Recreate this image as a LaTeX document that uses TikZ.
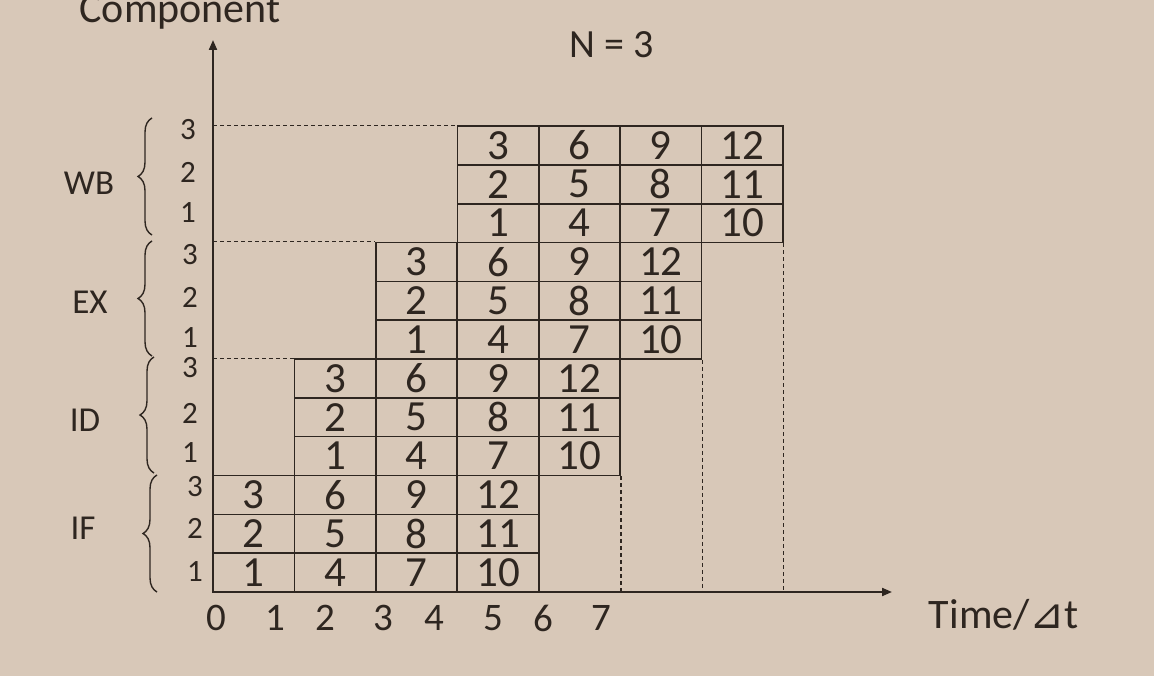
\documentclass[tikz,border=0pt]{standalone}
\usepackage{fontspec}
\setmainfont{Carlito}
\newfontfamily\trifont{DejaVu Sans}
\usepackage{xcolor}
\usetikzlibrary{arrows.meta, positioning, decorations.pathreplacing}
\definecolor{slidebg}{HTML}{D8C8B8}
\definecolor{ink}{HTML}{2E2620}

\begin{document}
\begin{tikzpicture}[
  x=1pt, y=-1pt,
  cell/.style={draw=ink, line width=1.6pt, minimum width=81.4pt, minimum height=38.8pt, inner sep=0pt, text=ink, font=\fontsize{43}{43}\selectfont},
  rowlbl/.style={text=ink, inner sep=0pt, font=\fontsize{31}{31}\selectfont},
  stage/.style={text=ink, inner sep=0pt, font=\fontsize{35}{35}\selectfont},
  tick/.style={text=ink, inner sep=0pt, font=\fontsize{39}{39}\selectfont},
  title/.style={text=ink, inner sep=0pt, font=\fontsize{42}{42}\selectfont},
  guide/.style={draw=ink, line width=1.3pt, dash pattern=on 4pt off 3pt},
  axis/.style={draw=ink, line width=2pt, -{Triangle[length=10pt, width=8pt]}},
  curly/.style={draw=ink, line width=1.4pt, decorate, decoration={brace, amplitude=14pt}},
]
\fill[slidebg] (0,0) rectangle (1154,676);
\useasboundingbox (0,0) rectangle (1154,676);

% axes
\coordinate (origin) at (213,592);
\coordinate (ytip) at (213,40);
\coordinate (xtip) at (892,592);
\draw[axis] (origin) -- (ytip);
\draw[axis] (origin) -- (xtip);
\node[title, anchor=base] (ylbl) at (180,23) {Component};
\node[title, anchor=base] (xlbl) at (1004,628) {Time/{\trifont ⊿}t};
\node[title, font=\fontsize{40}{40}\selectfont] (ntitle) at (612,45) {N = 3};

% stage blocks: stage s starts at column s
\foreach \s/\stg in {0/IF,1/ID,2/EX,3/WB}
  \foreach \col in {0,...,3}
    \foreach \r in {1,2,3}
      \node[cell] (\stg-\col-\r) at ({213+(\s+\col+0.5)*81.43}, {592-(3*\s+\r-0.5)*38.83})
        {\pgfmathtruncatemacro\num{3*\col+\r}\num};

% dashed guides
\draw[guide] (origin |- WB-0-3.north) -- (WB-0-3.north west);
\draw[guide] (origin |- EX-0-3.north) -- (EX-0-3.north west);
\draw[guide] (origin |- ID-0-3.north) -- (ID-0-3.north west);
\draw[guide] (ID-3-1.south east) -- (ID-3-1.south east |- origin);
\draw[guide] (EX-3-1.south east) -- (EX-3-1.south east |- origin);
\draw[guide] (WB-3-1.south east) -- (WB-3-1.south east |- origin);

% row numbers
\foreach \stg/\x/\ya/\yb/\yc in {WB/188/213/172/130, EX/190/338/297/255, ID/190/453/413/368, IF/195/572/528/487} {
  \node[rowlbl] (lbl-\stg-1) at (\x,\ya) {1};
  \node[rowlbl] (lbl-\stg-2) at (\x,\yb) {2};
  \node[rowlbl] (lbl-\stg-3) at (\x,\yc) {3};
}

% braces and stage names
\draw[curly] (152,235) -- (152,118);
\draw[curly] (152,356) -- (152,241);
\draw[curly] (154,473) -- (154,357);
\draw[curly] (157,592) -- (157,475);
\node[stage] (wb) at (89,183) {WB};
\node[stage] (ex) at (90,302) {EX};
\node[stage] (id) at (85,420) {ID};
\node[stage] (if) at (83,528) {IF};

% time ticks
\foreach \x/\t in {216/0, 275/1, 325/2, 383/3, 434/4, 493/5, 543/6, 601/7}
  \node[tick] (t\t) at (\x,618) {\t};
\end{tikzpicture}
\end{document}
